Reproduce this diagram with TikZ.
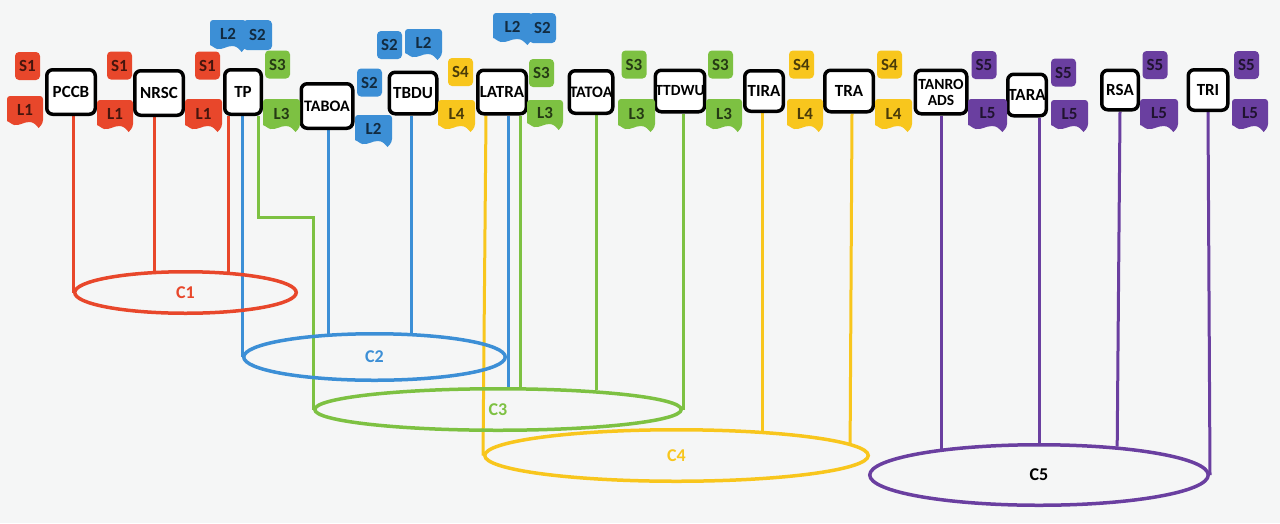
\documentclass[tikz,border=0pt]{standalone}
\usepackage{fontspec}
\setmainfont{Carlito}
\usetikzlibrary{shapes.geometric,calc}
\definecolor{cred}{HTML}{E8472B}
\definecolor{cblue}{HTML}{3C8FD6}
\definecolor{cgreen}{HTML}{7DC142}
\definecolor{cyel}{HTML}{F8C61D}
\definecolor{cpur}{HTML}{6A3FA0}
\definecolor{bgc}{HTML}{F5F6F6}
\pgfdeclarelayer{bgl}
\pgfdeclarelayer{lines}
\pgfsetlayers{bgl,lines,main}
\tikzset{
  box/.style={draw=black, line width=3.5pt, fill=white, rounded corners=6pt, inner sep=0pt,
    font=\bfseries\fontsize{17}{17}\selectfont, align=center},
  stag/.style={rounded corners=4pt, inner sep=0pt, minimum width=25pt, minimum height=28pt,
    font=\bfseries\fontsize{17}{17}\selectfont},
  ltext/.style={inner sep=0pt, font=\bfseries\fontsize{17}{17}\selectfont},
  conn/.style={line width=3pt},
  cyl/.style={ellipse, draw, line width=3.5pt, inner sep=0pt, font=\bfseries\fontsize{18}{18}\selectfont},
}
\newcommand\STag[5]{\node[stag, fill=#4, text=#4!30!black] (#1) at (#2,#3) {#5};}
\newcommand\LTag[7]{%
  \begin{scope}[shift={(#2,#3)}]
    \fill[#6, rounded corners=3pt] (0,{#5-7}) -- (0,0) -- (#4,0) -- (#4,{#5-5}) [sharp corners]
      -- ({0.88*#4},#5) .. controls ({0.8*#4},{#5-3}) and ({0.75*#4},{#5-6}) .. ({0.62*#4},{#5-6})
      .. controls ({0.45*#4},{#5-6}) and ({0.35*#4},{#5-2}) .. ({0.2*#4},{#5-3})
      .. controls ({0.1*#4},{#5-4}) and ({0.05*#4},{#5-7}) .. (0,{#5-7}) -- cycle;
    \node[ltext, text=#6!30!black] (#1) at ({#4/2},{#5/2-2}) {#7};
  \end{scope}}
\begin{document}
\begin{tikzpicture}[x=1pt, y=-1pt]
\useasboundingbox (0,0) rectangle (1280,523);
\begin{pgfonlayer}{bgl}
  \fill[bgc] (0,0) rectangle (1280,523);
\end{pgfonlayer}

% boxes
\node[box, minimum width=48.5pt, minimum height=44.5pt] (PCCB) at (71,92) {PCCB};
\node[box, minimum width=48.5pt, minimum height=44.5pt] (NRSC) at (159,93) {NRSC};
\node[box, minimum width=36.5pt, minimum height=44.5pt] (TP) at (243,92) {TP};
\node[box, minimum width=51.5pt, minimum height=44.5pt, font=\bfseries\fontsize{16}{16}\selectfont] (TABOA) at (327,106) {TABOA};
\node[box, minimum width=47.5pt, minimum height=41.5pt] (TBDU) at (413,93) {TBDU};
\node[box, minimum width=48.5pt, minimum height=43.5pt] (LATRA) at (502,92) {LATRA};
\node[box, minimum width=43.5pt, minimum height=42.5pt, font=\bfseries\fontsize{16}{16}\selectfont] (TATOA) at (591,92) {TATOA};
\node[box, minimum width=46.5pt, minimum height=41.5pt, font=\bfseries\fontsize{15.5}{16}\selectfont] (TTDWU) at (680,91) {TTDWU};
\node[box, minimum width=38.5pt, minimum height=40.5pt] (TIRA) at (764,91) {TIRA};
\node[box, minimum width=48.5pt, minimum height=41.5pt] (TRA) at (849,91) {TRA};
\node[box, minimum width=51.5pt, minimum height=43.5pt, font=\bfseries\fontsize{15.5}{16}\selectfont] (TANROADS) at (941,92) {TANRO\\ADS};
\node[box, minimum width=38.5pt, minimum height=41.5pt] (TARA) at (1027,95) {TARA};
\node[box, minimum width=36.5pt, minimum height=39.5pt] (RSA) at (1120,90) {RSA};
\node[box, minimum width=39.5pt, minimum height=40.5pt] (TRI) at (1208,90) {TRI};

% clusters
\node[cyl, draw=cred, text=cred, minimum width=221.5pt, minimum height=41.5pt] (C1) at (185.5,292.5) {C1};
\node[cyl, draw=cblue, text=cblue, minimum width=261.5pt, minimum height=46.5pt] (C2) at (374.5,357) {C2};
\node[cyl, draw=cgreen, text=cgreen, minimum width=366.5pt, minimum height=41.5pt] (C3) at (498,409.5) {C3};
\node[cyl, draw=cyel, text=cyel, minimum width=383.5pt, minimum height=51.5pt] (C4) at (676.5,455.5) {C4};
\node[cyl, draw=cpur, text=black, minimum width=338.5pt, minimum height=60.5pt] (C5) at (1039,475) {C5};

% S tags
\STag{s1a}{27.5}{66}{cred}{S1}
\STag{s1b}{119.5}{65.5}{cred}{S1}
\STag{s1c}{207.5}{65.5}{cred}{S1}
\STag{s3a}{277.5}{64.5}{cgreen}{S3}
\STag{s2b}{369.5}{82.5}{cblue}{S2}
\STag{s2c}{389.5}{45}{cblue}{S2}
\STag{s4a}{460.5}{72}{cyel}{S4}
\STag{s3b}{541.5}{73}{cgreen}{S3}
\STag{s3c}{634}{64.5}{cgreen}{S3}
\STag{s3d}{720.5}{64.5}{cgreen}{S3}
\STag{s4b}{801.5}{64.5}{cyel}{S4}
\STag{s4c}{889.5}{64.5}{cyel}{S4}
\STag{s5a}{984}{65}{cpur}{S5}
\STag{s5b}{1063.5}{72.5}{cpur}{S5}
\STag{s5c}{1155}{65}{cpur}{S5}
\STag{s5d}{1246.5}{65}{cpur}{S5}

% L tags
\LTag{l1a}{7}{96}{36}{32}{cred}{L1}
\LTag{l1b}{97}{100}{36}{32}{cred}{L1}
\LTag{l1c}{185}{99}{37}{33}{cred}{L1}
\LTag{l3a}{263}{99}{37}{33}{cgreen}{L3}
\LTag{l2b}{355}{115}{37}{32}{cblue}{L2}
\LTag{l2c}{405}{29}{37}{31}{cblue}{L2}
\LTag{l4a}{438}{100}{37}{32}{cyel}{L4}
\LTag{l3b}{527}{100}{36}{30}{cgreen}{L3}
\LTag{l3c}{618}{99}{37}{33}{cgreen}{L3}
\LTag{l3d}{706}{99}{36}{33}{cgreen}{L3}
\LTag{l4b}{787}{99}{36}{33}{cyel}{L4}
\LTag{l4c}{875}{99}{37}{33}{cyel}{L4}
\LTag{l5a}{968}{99}{39}{33}{cpur}{L5}
\LTag{l5b}{1051}{100}{37}{32}{cpur}{L5}
\LTag{l5c}{1140}{99}{38}{33}{cpur}{L5}
\LTag{l5d}{1232}{99}{36}{33}{cpur}{L5}

% combined L2/S2 tags
\LTag{l2a}{210}{20}{36}{32}{cblue}{L2}
\node[stag, fill=cblue, text=cblue!30!black, minimum width=29pt, minimum height=30pt] (s2a) at (257.5,35) {S2};
\LTag{l2d}{493}{13}{39}{32}{cblue}{L2}
\node[stag, fill=cblue, text=cblue!30!black, minimum width=27pt, minimum height=30pt] (s2d) at (542.5,28) {S2};

\coordinate (jog) at (313,217);

% connectors
\begin{pgfonlayer}{lines}
\draw[conn, cred] (C1.west) -- (C1.west |- PCCB.south);
\draw[conn, cred] (C1.145) -- (C1.145 |- NRSC.south);
\draw[conn, cred] (C1.26) -- (C1.26 |- TP.south);
\draw[conn, cblue] (C2.west) -- (C2.west |- TP.south);
\draw[conn, cgreen] (C3.west) -- (jog) -| ($(TP.south)+(15,0)$);
\draw[conn, cblue] (C2.153) -- (C2.153 |- TABOA.south);
\draw[conn, cblue] (C2.33) -- (C2.33 |- TBDU.south);
\draw[conn, cblue] (C3.66) -- (C3.66 |- LATRA.south);
\draw[conn, cgreen] (C3.45) -- (C3.45 |- LATRA.south);
\draw[conn, cgreen] (C3.11) -- (C3.11 |- TATOA.south);
\draw[conn, cgreen] (C3.east) -- (C3.east |- TTDWU.south);
\draw[conn, cyel] (C4.west) -- ($(LATRA.south)+(-16,0)$);
\draw[conn, cyel] (C4.16) -- (C4.16 |- TIRA.south);
\draw[conn, cyel] (C4.4) -- ($(TRA.south)+(3,0)$);
\draw[conn, cpur] (C5.165) -- (C5.165 |- TANROADS.south);
\draw[conn, cpur] (C5.north) -- (C5.north |- TARA.south);
\draw[conn, cpur] (C5.20) -- (RSA.south);
\draw[conn, cpur] (C5.east) -- (TRI.south);
\end{pgfonlayer}
\end{tikzpicture}
\end{document}
